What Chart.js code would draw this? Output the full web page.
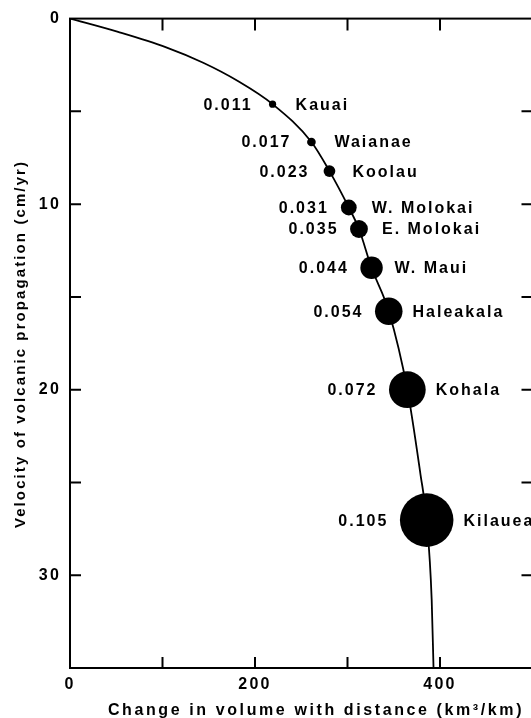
<!DOCTYPE html>
<html>
<head>
<meta charset="utf-8">
<script src="https://cdn.jsdelivr.net/npm/chart.js@4.4.1/dist/chart.umd.min.js"></script>
<style>
	html, body { margin: 0; padding: 0; background: #fff; overflow: hidden; }
	#wrap { position: absolute; left: 0; top: 0; width: 540px; height: 718px; }
</style>
</head>
<body>
<div id="wrap"><canvas id="volcano_chart" width="540" height="718"></canvas></div>
<script>
// volcano points: volume rate (km3/yr) shown as bubble size
const volcanoes = ["Kauai", "Waianae", "Koolau", "W. Molokai", "E. Molokai", "W. Maui", "Haleakala", "Kohala", "Kilauea"];
const volumeRates = [0.011, 0.017, 0.023, 0.031, 0.035, 0.044, 0.054, 0.072, 0.105];
const volumeChange = [219, 261, 280.5, 301.4, 312.4, 326, 344.6, 364.7, 385.6];
const velocity = [4.61, 6.65, 8.22, 10.18, 11.34, 13.43, 15.77, 20.0, 27.03];

// fitted curve
const curveX = [0, 52, 104, 144, 181, 219, 261, 280.5, 301.4, 312.4, 326, 344.6, 364.7, 379, 385.6, 391, 393];
const curveY = [0, 0.72, 1.55, 2.38, 3.35, 4.61, 6.65, 8.22, 10.18, 11.34, 13.43, 15.77, 20.0, 24.6, 27.03, 31.3, 35];

const xLabels = [0, 200, 400];
const yLabels = [0, 10, 20, 30];

const FONT = "'Liberation Sans', Arial, sans-serif";

function bubbleRadius(rate) {
	return Math.max(3.6, rate * 255);
}

const frame = {
	id: 'frame',
	beforeDraw(chart) {
		// wider spacing for the tick labels, like the printed figure
		chart.ctx.letterSpacing = '2.2px';
	},
	afterDraw(chart) {
		const ctx = chart.ctx;
		const a = chart.chartArea;
		const x = chart.scales.x;
		const y = chart.scales.y;
		ctx.letterSpacing = '0px';
		ctx.save();
		ctx.strokeStyle = '#000';
		ctx.lineWidth = 2;
		ctx.strokeRect(a.left, a.top, a.right - a.left, a.bottom - a.top);
		ctx.beginPath();
		x.ticks.forEach(t => {
			if (t.value <= x.min || t.value >= x.max) return;
			const px = x.getPixelForValue(t.value);
			ctx.moveTo(px, a.top); ctx.lineTo(px, a.top + 12);
			ctx.moveTo(px, a.bottom); ctx.lineTo(px, a.bottom - 11);
		});
		y.ticks.forEach(t => {
			if (t.value <= y.min || t.value >= y.max) return;
			const py = y.getPixelForValue(t.value);
			ctx.moveTo(a.left, py); ctx.lineTo(a.left + 11, py);
			ctx.moveTo(a.right, py); ctx.lineTo(a.right - 11, py);
		});
		ctx.stroke();
		ctx.restore();
	}
};

const texts = {
	id: 'texts',
	afterDraw(chart) {
		const ctx = chart.ctx;
		const meta = chart.getDatasetMeta(1);
		ctx.save();
		ctx.fillStyle = '#000';
		ctx.font = 'bold 16px ' + FONT;
		ctx.letterSpacing = '2px';
		ctx.textBaseline = 'middle';
		meta.data.forEach((pt, i) => {
			const r = bubbleRadius(volumeRates[i]);
			ctx.textAlign = 'right';
			ctx.fillText(volumeRates[i].toFixed(3), pt.x - Math.max(22, r + 13.5) + 2, pt.y + 1);
			ctx.textAlign = 'left';
			ctx.fillText(volcanoes[i], pt.x + Math.max(23, r + 10), pt.y + 1);
		});

		// axis titles
		ctx.font = 'bold 16px ' + FONT;
		ctx.letterSpacing = '2.6px';
		ctx.textAlign = 'center';
		ctx.textBaseline = 'alphabetic';
		ctx.fillText('Change in volume with distance (km\u00b3/km)', 316, 715);

		ctx.translate(25, 344);
		ctx.rotate(-Math.PI / 2);
		ctx.font = 'bold 15px ' + FONT;
		ctx.letterSpacing = '2.1px';
		ctx.fillText('Velocity of volcanic propagation (cm/yr)', 0, 0);
		ctx.restore();
	}
};

new Chart(document.getElementById('volcano_chart'), {
	type: 'scatter',
	data: {
		datasets: [
			{
				type: 'line',
				data: curveX.map((v, i) => ({ x: v, y: curveY[i] })),
				borderColor: '#000',
				borderWidth: 1.8,
				pointRadius: 0,
				showLine: true,
				fill: false,
				cubicInterpolationMode: 'monotone',
			},
			{
				type: 'bubble',
				data: volumeChange.map((v, i) => ({ x: v, y: velocity[i], r: bubbleRadius(volumeRates[i]) })),
				backgroundColor: '#000',
				borderColor: '#000',
				borderWidth: 0,
			}
		]
	},
	options: {
		responsive: false,
		animation: false,
		events: [],
		layout: {
			autoPadding: false,
			padding: { top: 15, right: 7.5, left: 0, bottom: 0 }
		},
		plugins: {
			legend: { display: false },
			tooltip: { enabled: false },
		},
		scales: {
			x: {
				type: 'linear',
				min: 0,
				max: 500,
				afterFit: (scale) => { scale.height = 50; },
				grid: { display: false, drawTicks: false },
				border: { display: false },
				ticks: {
					stepSize: 100,
					padding: 7,
					color: '#000',
					font: { family: FONT, size: 16, weight: 'bold' },
					callback: (v) => xLabels.includes(v) ? String(v) : '',
				},
			},
			y: {
				type: 'linear',
				min: 0,
				max: 35,
				reverse: true,
				afterFit: (scale) => { scale.width = 70; },
				grid: { display: false, drawTicks: false },
				border: { display: false },
				ticks: {
					stepSize: 5,
					padding: 9,
					color: '#000',
					font: { family: FONT, size: 16, weight: 'bold' },
					callback: (v) => yLabels.includes(v) ? String(v) : '',
				},
			},
		},
	},
	plugins: [frame, texts],
});
</script>
</body>
</html>
